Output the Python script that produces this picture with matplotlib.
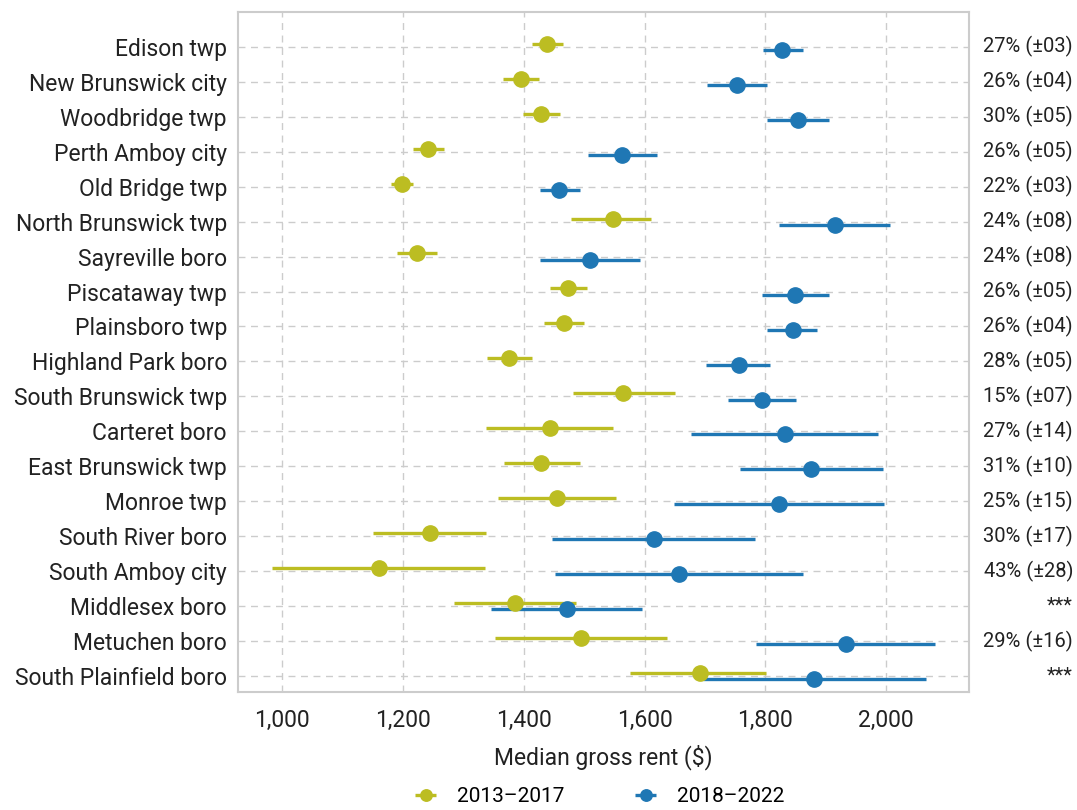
import matplotlib
matplotlib.use("Agg")
import matplotlib.pyplot as plt
import matplotlib.transforms as mtransforms
import numpy as np

plt.rcParams["font.family"] = ["Roboto", "DejaVu Sans"]

places = ["Edison twp", "New Brunswick city", "Woodbridge twp", "Perth Amboy city",
          "Old Bridge twp", "North Brunswick twp", "Sayreville boro", "Piscataway twp",
          "Plainsboro twp", "Highland Park boro", "South Brunswick twp", "Carteret boro",
          "East Brunswick twp", "Monroe twp", "South River boro", "South Amboy city",
          "Middlesex boro", "Metuchen boro", "South Plainfield boro"]

# 2013-2017 estimate and margin-of-error bounds
rent_1317 = [1438, 1396, 1429, 1242, 1198, 1547, 1223, 1474, 1467, 1376,
             1564, 1443, 1428, 1455, 1245, 1161, 1386, 1494, 1691]
low_1317 = [1413, 1366, 1398, 1216, 1181, 1478, 1190, 1444, 1433, 1339,
            1482, 1338, 1368, 1358, 1151, 983, 1285, 1353, 1576]
high_1317 = [1465, 1426, 1460, 1268, 1217, 1610, 1256, 1505, 1500, 1413,
             1651, 1547, 1493, 1553, 1338, 1336, 1487, 1637, 1801]

# 2018-2022
rent_1822 = [1828, 1753, 1854, 1562, 1459, 1916, 1509, 1849, 1845, 1756,
             1795, 1832, 1875, 1823, 1615, 1657, 1472, 1933, 1880]
low_1822 = [1796, 1704, 1802, 1506, 1427, 1822, 1427, 1794, 1802, 1702,
            1738, 1677, 1758, 1649, 1447, 1452, 1346, 1784, 1697]
high_1822 = [1862, 1802, 1906, 1620, 1493, 2006, 1593, 1906, 1885, 1808,
             1851, 1987, 1994, 1997, 1783, 1862, 1596, 2081, 2066]

changes = ["27% (±03)", "26% (±04)", "30% (±05)", "26% (±05)", "22% (±03)",
           "24% (±08)", "24% (±08)", "26% (±05)", "26% (±04)", "28% (±05)",
           "15% (±07)", "27% (±14)", "31% (±10)", "25% (±15)", "30% (±17)",
           "43% (±28)", "***", "29% (±16)", "***"]

fig = plt.figure(figsize=(10.77, 8.10), dpi=100)
ax = fig.add_axes([238 / 1077, 1 - 692 / 810, (969 - 238) / 1077, (692 - 12) / 810])

y = np.arange(len(places))
series = [
    ("2013\u20132017", rent_1317, low_1317, high_1317, "#bcbd22", -0.09),
    ("2018\u20132022", rent_1822, low_1822, high_1822, "#1f77b4", 0.09),
]
for label, mid, lo, hi, col, off in series:
    mid = np.array(mid)
    err = [mid - np.array(lo), np.array(hi) - mid]
    ax.errorbar(mid, y + off, xerr=err, fmt="o", color=col, ecolor=col,
                elinewidth=2.4, markersize=11, capsize=0, label=label, zorder=3)

txtcol = "#222222"
ax.set_yticks(y)
ax.set_yticklabels(places, fontsize=16.5, color=txtcol)
ax.set_ylim(18.46, -1.0)
ax.set_xlim(927, 2137)
ax.set_xticks([1000, 1200, 1400, 1600, 1800, 2000])
ax.set_xticklabels(["1,000", "1,200", "1,400", "1,600", "1,800", "2,000"],
                   fontsize=16.5, color=txtcol)
ax.set_xlabel("Median gross rent ($)", fontsize=16.5, color=txtcol, labelpad=9)
ax.tick_params(axis="x", length=0, pad=12)
ax.tick_params(axis="y", length=0, pad=8)
ax.grid(True, linestyle=(0, (5, 4)), color="#cccccc", linewidth=1)
ax.set_axisbelow(True)
for s in ax.spines.values():
    s.set_color("#cccccc")
    s.set_linewidth(1.5)

trans = mtransforms.blended_transform_factory(fig.transFigure, ax.transData)
for i, txt in enumerate(changes):
    ax.text(1073 / 1077, i, txt, transform=trans, ha="right", va="center",
            fontsize=14.5, color=txtcol)

fig.legend(loc="lower center", bbox_to_anchor=(0.555, -0.018), ncol=2,
           frameon=False, fontsize=15, markerscale=0.75, handlelength=1.4,
           columnspacing=3.2)

fig.savefig("out.png", dpi=100)
